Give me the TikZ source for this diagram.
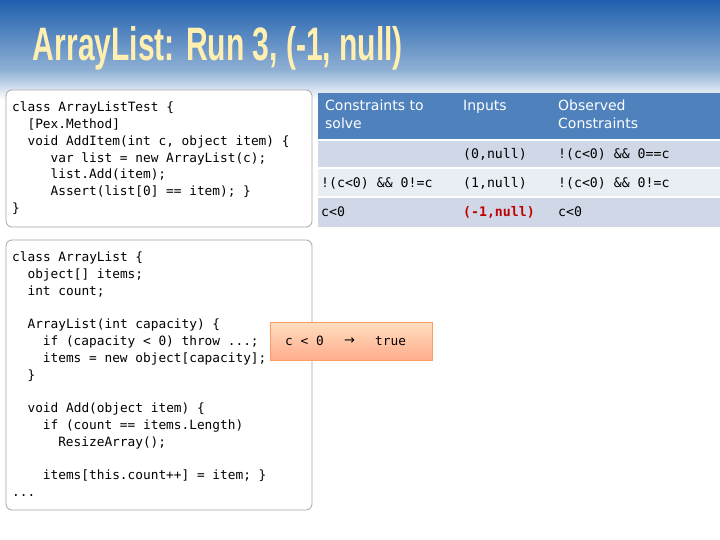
\documentclass[tikz,border=0pt]{standalone}
\usepackage{fontspec}
\setmainfont{Liberation Sans}
\setmonofont{DejaVu Sans Mono}
\newfontfamily\hdr{DejaVu Sans}
\begin{document}
\begin{tikzpicture}[x=1pt,y=-1pt,
  codebox/.style={draw=gray!70,rounded corners=6pt,fill=white,line width=0.8pt},
  code/.style={anchor=north west,align=left,inner sep=0pt,font=\fontsize{12.8}{16.75}\selectfont\ttfamily},
  hd/.style={anchor=north west,align=left,inner sep=0pt,text=white,font=\hdr\fontsize{14}{17.5}\selectfont},
  cell/.style={anchor=west,inner sep=0pt,font=\fontsize{13.2}{16}\selectfont\ttfamily}]
\definecolor{bgtop}{HTML}{1F5FAE}
\definecolor{bgmid}{HTML}{8FB0D4}
\definecolor{hblue}{HTML}{4F81BD}
\definecolor{rowA}{HTML}{D0D8E8}
\definecolor{rowB}{HTML}{E9EDF4}
\definecolor{ttl}{HTML}{FFEFB0}
\useasboundingbox (0,0) rectangle (720,540);
\fill[white] (0,0) rectangle (720,540);
\shade[top color=bgtop,bottom color=bgmid] (0,0) rectangle (720,70);
\shade[top color=bgmid,bottom color=white] (0,70) rectangle (720,100);
\node[inner sep=0pt,text=ttl] (title) at (218,48) {\resizebox{370pt}{34pt}{\fontsize{34}{34}\selectfont\bfseries ArrayList: Run 3, (-1, null)}};
% table
\fill[hblue] (318,93) rectangle (720,140);
\fill[rowA] (318,140) rectangle (720,168);
\fill[rowB] (318,168) rectangle (720,197);
\fill[rowA] (318,197) rectangle (720,227);
\draw[white,line width=1.2pt] (318,140) -- (720,140) (318,168) -- (720,168) (318,197) -- (720,197);
\node[hd] (h1) at (325,100) {Constraints to\\solve};
\node[hd] (h2) at (463,100) {Inputs};
\node[hd] (h3) at (558,100) {Observed\\Constraints};
\node[cell] (r1b) at (463,154) {(0,null)};
\node[cell] (r1c) at (558,154) {!(c<0) \&\& 0==c};
\node[cell] (r2a) at (321,183) {!(c<0) \&\& 0!=c};
\node[cell] (r2b) at (463,183) {(1,null)};
\node[cell] (r2c) at (558,183) {!(c<0) \&\& 0!=c};
\node[cell] (r3a) at (321,212) {c<0};
\node[cell,text=red!75!black,font=\fontsize{13.2}{16}\selectfont\ttfamily\bfseries] (r3b) at (463,212) {(-1,null)};
\node[cell] (r3c) at (558,212) {c<0};
% code box 1
\draw[codebox] (6,90) rectangle (312,227);
\node[code] (c1) at (12,102) {class ArrayListTest \{\\
\hspace*{1.2em}[Pex.Method]\\
\hspace*{1.2em}void AddItem(int c, object item) \{\\
\hspace*{3em}var list = new ArrayList(c);\\
\hspace*{3em}list.Add(item);\\
\hspace*{3em}Assert(list[0] == item); \}\\
\}};
% code box 2
\draw[codebox] (6,240) rectangle (312,510);
\node[code] (c2) at (12,252) {class ArrayList \{\\
\hspace*{1.2em}object[] items;\\
\hspace*{1.2em}int count;\\[16.75pt]
\hspace*{1.2em}ArrayList(int capacity) \{\\
\hspace*{2.4em}if (capacity < 0) throw ...;\\
\hspace*{2.4em}items = new object[capacity];\\
\hspace*{1.2em}\}\\[16.75pt]
\hspace*{1.2em}void Add(object item) \{\\
\hspace*{2.4em}if (count == items.Length)\\
\hspace*{3.6em}ResizeArray();\\[16.75pt]
\hspace*{2.4em}items[this.count++] = item; \}\\
...};
% orange box
\shade[top color=orange!25,bottom color=orange!55!red!45,draw=orange!70!red!60] (270,322) rectangle (432,360);
\node[cell,font=\fontsize{12.8}{16}\selectfont\ttfamily] (cond) at (285,341) {c < 0};
\node[cell,font=\hdr\fontsize{13}{16}\selectfont] (arr) at (344,341) {→};
\node[cell,font=\fontsize{12.8}{16}\selectfont\ttfamily] (tru) at (375,341) {true};
\end{tikzpicture}
\end{document}
